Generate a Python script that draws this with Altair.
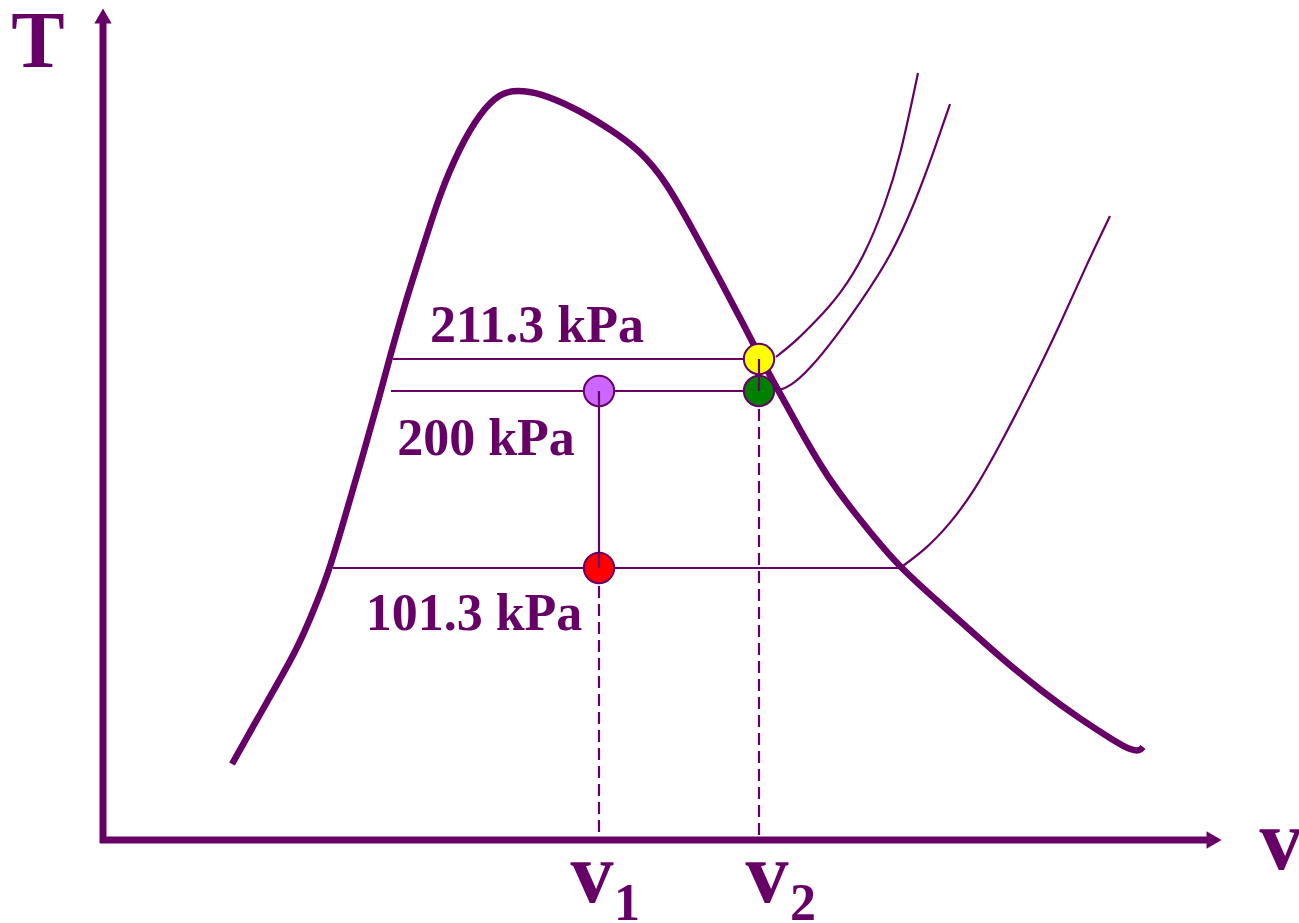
import altair as alt
import pandas as pd

PURPLE = "#660066"
W, H = 1299, 923

# Saturation dome (specific volume v, temperature T in drawing units)
dome_v = [232, 268, 297, 316, 330, 344, 361, 381, 389, 406, 420, 440, 460, 480, 500, 517,
          540, 573, 607, 640, 667, 693, 720, 745, 760, 778, 800, 827, 860, 897, 933,
          970, 1000, 1040, 1080, 1113, 1130, 1140, 1143]
dome_T = [764, 700, 650, 605, 568, 520, 462, 391, 360, 300, 257, 193, 147, 113, 93, 90,
          93, 107, 127, 150, 183, 230, 280, 327, 357, 390, 430, 477, 520, 565, 597,
          630, 657, 690, 719, 740, 750, 751, 747]

# Superheated parts of the isobars
p211_v = [776, 795, 815, 840, 865, 885, 900, 918]
p211_T = [357, 342, 322, 295, 255, 205, 158, 73]
p200_v = [776, 790, 810, 835, 860, 890, 915, 935, 950]
p200_T = [391, 387, 369, 338, 303, 258, 203, 148, 104]
p101_v = [900, 925, 950, 975, 1000, 1030, 1060, 1085, 1110]
p101_T = [568, 550, 524, 490, 445, 387, 325, 268, 216]

# Constant-pressure lines inside the dome: (v_start, v_end, T)
flat_v1 = [393, 391, 333]
flat_v2 = [759, 759, 900]
flat_T = [359, 391, 568]

# State points
pt_v = [759, 759, 599, 599]
pt_T = [359, 391, 391, 568]
pt_color = ["#ffff00", "#008000", "#cc66ff", "#ff0000"]

# Vertical guides: solid process segments and dashed projections to the axis
solid_v = [599, 759]
solid_T1 = [391, 359]
solid_T2 = [568, 391]
dash_v = [599, 759]
dash_T1 = [568, 391]
dash_T2 = [838, 838]

# Pressure labels
lab_text = ["211.3 kPa", "200 kPa", "101.3 kPa"]
lab_v = [537, 486, 474]
lab_T = [342, 455, 630]

xs = alt.Scale(domain=[0, W], nice=False, zero=False)
ys = alt.Scale(domain=[0, H], nice=False, zero=False, reverse=True)
X = lambda f: alt.X(f, type="quantitative", scale=xs, axis=None)
Y = lambda f: alt.Y(f, type="quantitative", scale=ys, axis=None)


def curve(vs, ts):
    return pd.DataFrame({"v": vs, "T": ts, "i": range(len(vs))})


dome = alt.Chart(curve(dome_v, dome_T)).mark_line(
    color=PURPLE, strokeWidth=6.5, strokeCap="butt", strokeJoin="round", interpolate="basis"
).encode(x=X("v"), y=Y("T"), order="i:Q")

isobars = []
for vs, ts in [(p211_v, p211_T), (p200_v, p200_T), (p101_v, p101_T)]:
    isobars.append(
        alt.Chart(curve(vs, ts)).mark_line(
            color=PURPLE, strokeWidth=2.2, interpolate="basis"
        ).encode(x=X("v"), y=Y("T"), order="i:Q")
    )

flats = alt.Chart(pd.DataFrame({"v1": flat_v1, "v2": flat_v2, "T": flat_T})).mark_rule(
    color=PURPLE, strokeWidth=2.2
).encode(x=X("v1"), x2="v2", y=Y("T"))

points = alt.Chart(pd.DataFrame({"v": pt_v, "T": pt_T, "c": pt_color})).mark_point(
    filled=True, shape="circle", size=920, stroke=PURPLE, strokeWidth=2, opacity=1
).encode(x=X("v"), y=Y("T"), fill=alt.Fill("c:N", scale=None))

solids = alt.Chart(pd.DataFrame({"v": solid_v, "T1": solid_T1, "T2": solid_T2})).mark_rule(
    color=PURPLE, strokeWidth=2.2
).encode(x=X("v"), y=Y("T1"), y2="T2")

dashes = alt.Chart(pd.DataFrame({"v": dash_v, "T1": dash_T1, "T2": dash_T2})).mark_rule(
    color=PURPLE, strokeWidth=2.2, strokeDash=[12, 6]
).encode(x=X("v"), y=Y("T1"), y2="T2")

# Axes drawn as arrows
axes = alt.Chart(pd.DataFrame({
    "x1": [103, 100], "x2": [103, 1210], "y1": [843, 840], "y2": [22, 840]
})).mark_rule(color=PURPLE, strokeWidth=7).encode(
    x=X("x1"), x2="x2", y=Y("y1"), y2="y2"
)
head_up = alt.Chart(pd.DataFrame({"v": [103], "T": [16]})).mark_point(
    shape="triangle-up", filled=True, size=300, color=PURPLE, opacity=1
).encode(x=X("v"), y=Y("T"))
head_right = alt.Chart(pd.DataFrame({"v": [1214], "T": [840]})).mark_point(
    shape="triangle-right", filled=True, size=300, color=PURPLE, opacity=1
).encode(x=X("v"), y=Y("T"))

labels = alt.Chart(pd.DataFrame({"t": lab_text, "v": lab_v, "T": lab_T})).mark_text(
    font="Liberation Serif", fontWeight="bold", fontSize=52, color=PURPLE,
    align="center", baseline="alphabetic"
).encode(x=X("v"), y=Y("T"), text="t:N")

axis_T = alt.Chart(pd.DataFrame({"t": ["T"], "v": [38], "T": [67]})).mark_text(
    font="Liberation Serif", fontWeight="bold", fontSize=80, color=PURPLE,
    align="center", baseline="alphabetic"
).encode(x=X("v"), y=Y("T"), text="t:N")

big_v = alt.Chart(pd.DataFrame({"t": ["v", "v", "v"], "v": [1281, 592, 767],
                                "T": [869, 902, 902]})).mark_text(
    font="Liberation Serif", fontWeight="bold", fontSize=86, color=PURPLE,
    align="center", baseline="alphabetic"
).encode(x=X("v"), y=Y("T"), text="t:N")

subs = alt.Chart(pd.DataFrame({"t": ["1", "2"], "v": [627, 803], "T": [920, 920]})).mark_text(
    font="Liberation Serif", fontWeight="bold", fontSize=52, color=PURPLE,
    align="center", baseline="alphabetic"
).encode(x=X("v"), y=Y("T"), text="t:N")

chart = alt.layer(
    flats, dashes, *isobars, dome, points, solids, axes, head_up, head_right,
    labels, axis_T, big_v, subs
).properties(
    width=W, height=H, padding=0, autosize=alt.AutoSizeParams(type="none"),
    background="white"
).configure_view(stroke=None)

chart.save("out.html", embed_options={"renderer": "svg", "actions": False})
